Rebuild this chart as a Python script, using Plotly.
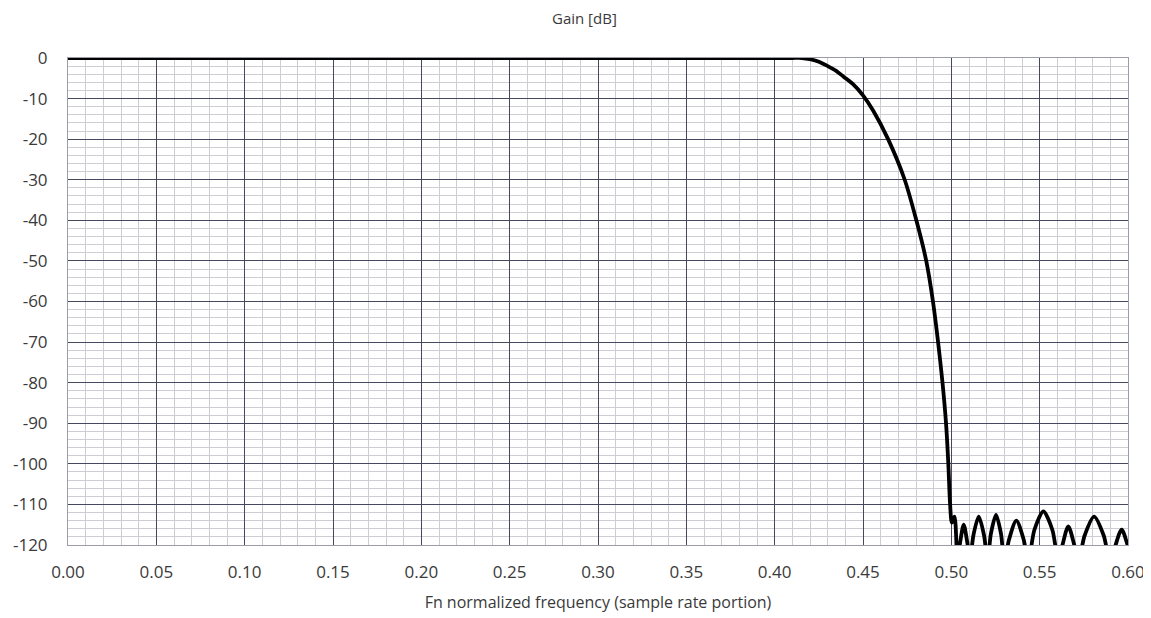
import plotly.graph_objects as go

# Frequency (normalized) and gain [dB]
freq = [0.000, 0.100, 0.200, 0.300, 0.400, 0.4100, 0.4154, 0.4200, 0.4250, 0.4300,
        0.4346, 0.4390, 0.4442, 0.4500, 0.4558, 0.4642, 0.4736, 0.4802, 0.4858,
        0.4896, 0.4925, 0.4950, 0.4970, 0.4983, 0.4993, 0.5003, 0.5018,
        0.5035, 0.5049, 0.5070, 0.5091,
        0.5105, 0.5125, 0.5155, 0.5185,
        0.5205, 0.5224, 0.5253, 0.5281,
        0.5300, 0.5327, 0.5368, 0.5409,
        0.5436, 0.5470, 0.5521, 0.5572,
        0.5606, 0.5629, 0.5662, 0.5696,
        0.5719, 0.5755, 0.5808, 0.5862,
        0.5898, 0.5924, 0.5964, 0.6000, 0.6030]
gain = [0.0, 0.0, 0.0, 0.0, 0.0, 0.0, 0.0, -0.3, -0.9, -2.0,
        -3.1, -4.6, -6.4, -9.2, -13.0, -20.0, -30.0, -40.0, -50.0,
        -60.0, -70.0, -80.0, -90.0, -100.0, -110.0, -114.5, -113.0,
        -124.0, -119.6, -115.0, -119.6,
        -124.0, -117.6, -113.0, -117.6,
        -124.0, -117.2, -112.6, -117.2,
        -124.0, -118.6, -114.0, -118.6,
        -124.0, -116.3, -111.7, -116.3,
        -124.0, -120.0, -115.4, -120.0,
        -124.0, -117.6, -113.0, -117.6,
        -124.0, -120.8, -116.2, -120.3, -124.0]

x_tickvals = [0.00, 0.05, 0.10, 0.15, 0.20, 0.25, 0.30, 0.35, 0.40, 0.45, 0.50, 0.55, 0.60]
x_ticktext = ["0.00", "0.05", "0.10", "0.15", "0.20", "0.25", "0.30", "0.35",
              "0.40", "0.45", "0.50", "0.55", "0.60"]
y_tickvals = [0, -10, -20, -30, -40, -50, -60, -70, -80, -90, -100, -110, -120]
y_ticktext = ["0", "-10", "-20", "-30", "-40", "-50", "-60", "-70", "-80", "-90",
              "-100", "-110", "-120"]

title_text = "Gain [dB]"
x_title = "Fn normalized frequency (sample rate portion)"

FONT = "Open Sans, Noto Sans, DejaVu Sans, sans-serif"
TXT = "#3a3a3a"
MAJOR = "#45485f"
MINOR = "#cdcdd3"
CLEAR = "rgba(0,0,0,0)"

fig = go.Figure()
fig.add_trace(go.Scatter(
    x=freq, y=gain, mode="lines",
    line=dict(color="#000000", width=3.8, shape="spline", smoothing=0.8),
    showlegend=False,
))

# page body adds an 8px offset, so the figure is 8px smaller and margins shifted
fig.update_layout(
    width=1143, height=610,
    margin=dict(l=60, r=23, t=50, b=73),
    paper_bgcolor="white", plot_bgcolor="white",
    font=dict(family=FONT, color=TXT),
    annotations=[dict(
        text=title_text, xref="paper", yref="paper",
        x=0.4877, y=1 + 40 / 487, xanchor="center", yanchor="middle",
        showarrow=False, font=dict(size=15, color=TXT, family=FONT),
    )],
)

fig.update_xaxes(
    range=[0, 0.6], tickmode="array", tickvals=x_tickvals, ticktext=x_ticktext,
    showgrid=True, gridcolor=MAJOR, gridwidth=1.2,
    minor=dict(tickmode="linear", tick0=0, dtick=0.01, showgrid=True,
               gridcolor=MINOR, gridwidth=1, ticks=""),
    zeroline=False, showline=True, mirror=True, linecolor="#9a9ca8", linewidth=1,
    ticks="outside", ticklen=12, tickcolor=CLEAR, automargin=False,
    tickfont=dict(size=17, color=TXT),
    title=dict(text=x_title, font=dict(size=16, color=TXT), standoff=14),
)
fig.update_yaxes(
    range=[-120, 0], tickmode="array", tickvals=y_tickvals, ticktext=y_ticktext,
    showgrid=True, gridcolor=MAJOR, gridwidth=1.2,
    minor=dict(tickmode="linear", tick0=0, dtick=2, showgrid=True,
               gridcolor=MINOR, gridwidth=1, ticks=""),
    zeroline=False, showline=True, mirror=True, linecolor="#9a9ca8", linewidth=1,
    ticks="outside", ticklen=16, tickcolor=CLEAR, automargin=False,
    tickfont=dict(size=17, color=TXT),
)

fig.write_html("out.html")
